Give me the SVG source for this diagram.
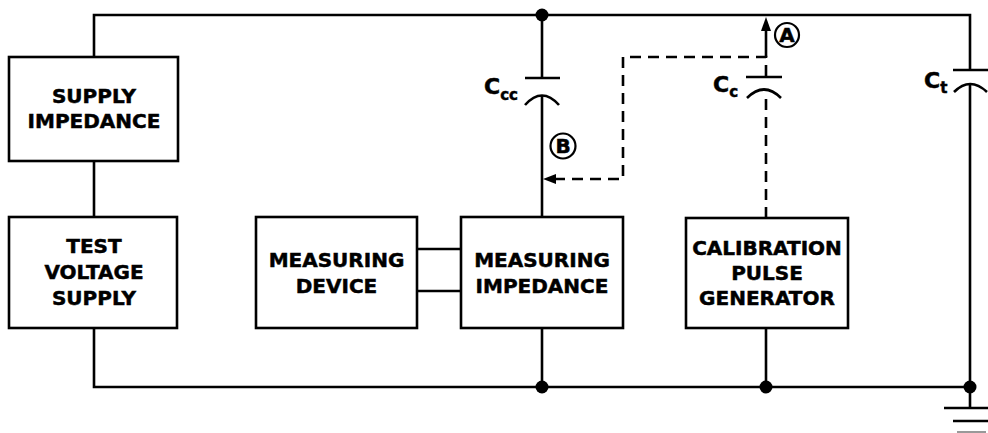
<svg xmlns="http://www.w3.org/2000/svg" width="988" height="433" viewBox="0 0 988 433">
<style>
.w{fill:none;stroke:#000;stroke-width:2.6}
.d{fill:none;stroke:#000;stroke-width:2.6;stroke-dasharray:11,7}
.box{fill:#fff;stroke:#000;stroke-width:2.6}
.t{font-family:"DejaVu Sans",Verdana,sans-serif;font-weight:bold;font-size:20px;text-anchor:middle;fill:#000;stroke:#000;stroke-width:0.5}
.lbl{font-family:"DejaVu Sans",Verdana,sans-serif;font-weight:bold;fill:#000;stroke:#000;stroke-width:0.5}
.dot{fill:#000}
.circ{fill:#fff;stroke:#000;stroke-width:2.2}
</style>
<g id="connectors">
<path class="w" d="M94,217 V161 M94,57 V15 H970 V70"/>
<path class="w" d="M94,328 V387 H970"/>
<path class="w" d="M970,85 V408"/>
<path class="w" d="M542,15 V78"/>
<path class="w" d="M542,96 V217"/>
<path class="w" d="M542,328 V387"/>
<path class="w" d="M417,249 H461 M417,291 H461"/>
<path class="w" d="M766,328 V387"/>
<path class="d" d="M766,218 V93"/>
<path class="d" d="M766,76 V57 H623 V179 H555"/>
<path class="w" d="M766,57 V30"/>
<path d="M766,17 L761,31 L771,31 Z" fill="#000"/>
<path d="M543,179 L556,174 L556,184 Z" fill="#000"/>
<circle class="dot" cx="542" cy="15" r="6.5"/>
<circle class="dot" cx="542" cy="387" r="6.5"/>
<circle class="dot" cx="766" cy="387" r="6.5"/>
<circle class="dot" cx="970" cy="387" r="6.5"/>
</g>
<g id="Ccc">
<path class="w" d="M525,78 H560"/>
<path class="w" d="M525,105 Q542,86 559,105"/>
<text class="lbl" x="484" y="94" font-size="22">C<tspan font-size="15" dy="6">cc</tspan></text>
</g>
<g id="Cc">
<path class="w" d="M746,77 H782"/>
<path class="w" d="M747,98 Q764,81 781,98"/>
<text class="lbl" x="713" y="92" font-size="22">C<tspan font-size="15" dy="5">c</tspan></text>
</g>
<g id="Ct">
<path class="w" d="M953,70 H990"/>
<path class="w" d="M954,92 Q970,76 987,92"/>
<text class="lbl" x="924" y="88" font-size="22">C<tspan font-size="15" dy="5">t</tspan></text>
</g>
<g id="ground">
<path class="w" d="M944,408 H990 M953,421 H990"/>
<path d="M957,432 H986" stroke="#999" stroke-width="2"/>
</g>
<g id="A">
<circle class="circ" cx="787" cy="35" r="12"/>
<text class="t" x="787" y="42" font-size="19">A</text>
</g>
<g id="B">
<circle class="circ" cx="563" cy="146" r="12.5"/>
<text class="t" x="563" y="153" font-size="19">B</text>
</g>
<g id="supply-impedance">
<rect class="box" x="9" y="57" width="169" height="104"/>
<text class="t" x="94" y="103">SUPPLY</text>
<text class="t" x="94" y="128">IMPEDANCE</text>
</g>
<g id="test-voltage-supply">
<rect class="box" x="9" y="217" width="168" height="111"/>
<text class="t" x="94" y="253">TEST</text>
<text class="t" x="94" y="279">VOLTAGE</text>
<text class="t" x="94" y="305">SUPPLY</text>
</g>
<g id="measuring-device">
<rect class="box" x="256" y="217" width="161" height="111"/>
<text class="t" x="336.5" y="267">MEASURING</text>
<text class="t" x="336.5" y="293">DEVICE</text>
</g>
<g id="measuring-impedance">
<rect class="box" x="461" y="217" width="162" height="111"/>
<text class="t" x="542" y="267">MEASURING</text>
<text class="t" x="542" y="293">IMPEDANCE</text>
</g>
<g id="calibration-pulse-generator">
<rect class="box" x="686" y="218" width="162" height="110"/>
<text class="t" x="767" y="255">CALIBRATION</text>
<text class="t" x="767" y="280">PULSE</text>
<text class="t" x="767" y="305">GENERATOR</text>
</g>
</svg>
